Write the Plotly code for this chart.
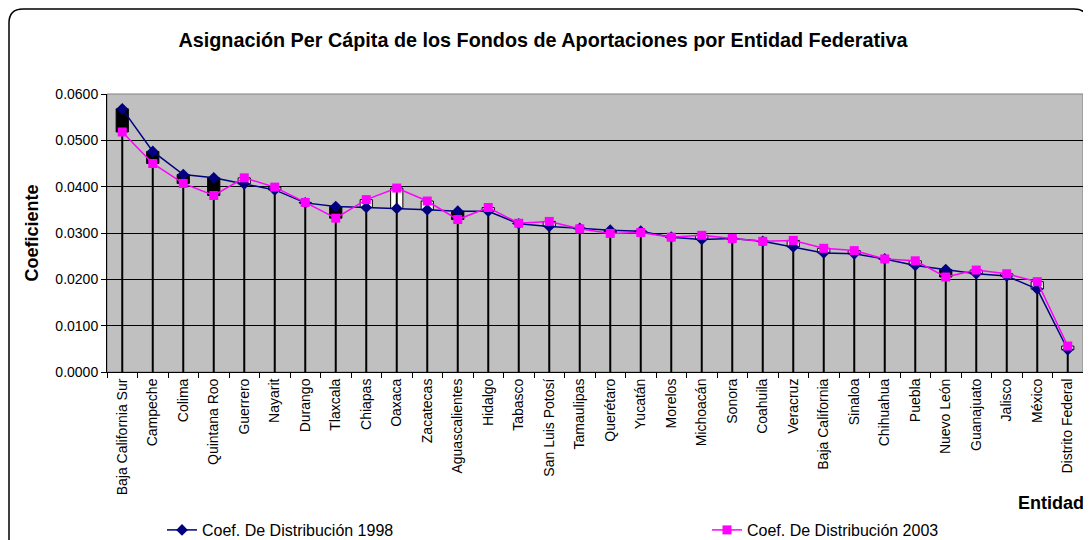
import plotly.graph_objects as go

categories = ["Baja California Sur", "Campeche", "Colima", "Quintana Roo", "Guerrero", "Nayarit",
              "Durango", "Tlaxcala", "Chiapas", "Oaxaca", "Zacatecas", "Aguascalientes", "Hidalgo",
              "Tabasco", "San Luis Potosí", "Tamaulipas", "Querétaro", "Yucatán", "Morelos",
              "Michoacán", "Sonora", "Coahuila", "Veracruz", "Baja California", "Sinaloa",
              "Chihuahua", "Puebla", "Nuevo León", "Guanajuato", "Jalisco", "México", "Distrito Federal"]

coef_1998 = [0.0568, 0.0476, 0.0426, 0.0419, 0.0406, 0.0393, 0.0365, 0.0357, 0.0355, 0.0353,
             0.0350, 0.0347, 0.0347, 0.0320, 0.0314, 0.0310, 0.0306, 0.0304, 0.0291, 0.0286,
             0.0288, 0.0282, 0.0270, 0.0257, 0.0255, 0.0244, 0.0230, 0.0221, 0.0212, 0.0207,
             0.0179, 0.0048]

coef_2003 = [0.0518, 0.0450, 0.0407, 0.0381, 0.0419, 0.0399, 0.0366, 0.0332, 0.0372, 0.0397,
             0.0369, 0.0329, 0.0355, 0.0321, 0.0325, 0.0309, 0.0299, 0.0301, 0.0291, 0.0295,
             0.0288, 0.0282, 0.0284, 0.0267, 0.0262, 0.0244, 0.0240, 0.0205, 0.0220, 0.0212,
             0.0195, 0.0056]

y_ticks = [0.0, 0.01, 0.02, 0.03, 0.04, 0.05, 0.06]

FONT = "Liberation Sans, Arial, sans-serif"
OFF = 8  # page body margin
W, H = 1091 - OFF, 540 - OFF
ML, MR, MT, MB = 99, 8, 86, 168
PW, PH = W - ML - MR, H - MT - MB


def px_x(p):
    return (p - OFF - ML) / PW


def px_y(p):
    return (H - MB - (p - OFF)) / PH


fig = go.Figure()

# drop lines
dx, dy = [], []
for c, a, b in zip(categories, coef_1998, coef_2003):
    dx += [c, c, None]
    dy += [0, max(a, b), None]
fig.add_trace(go.Scatter(x=dx, y=dy, mode="lines", line=dict(color="black", width=2),
                         showlegend=False, hoverinfo="skip"))

# up/down bars
fig.add_trace(go.Bar(
    x=categories,
    y=[abs(b - a) for a, b in zip(coef_1998, coef_2003)],
    base=[min(a, b) for a, b in zip(coef_1998, coef_2003)],
    width=0.4,
    marker=dict(color=["white" if b > a else "black" for a, b in zip(coef_1998, coef_2003)],
                line=dict(color="black", width=1)),
    showlegend=False, hoverinfo="skip"))

fig.add_trace(go.Scatter(x=categories, y=coef_1998, mode="lines+markers",
                         name="Coef. De Distribución 1998",
                         line=dict(color="#000080", width=1.5),
                         marker=dict(symbol="diamond", size=9, color="#000080"),
                         legend="legend"))
fig.add_trace(go.Scatter(x=categories, y=coef_2003, mode="lines+markers",
                         name="Coef. De Distribución 2003",
                         line=dict(color="#FF00FF", width=1.5),
                         marker=dict(symbol="square", size=9, color="#FF00FF"),
                         legend="legend2"))

# rounded chart border
L, R, T, B = px_x(9), px_x(1088), px_y(9), px_y(570)
rx, ry = 14 / PW, 14 / PH
path = (f"M {L+rx},{T} L {R-rx},{T} Q {R},{T} {R},{T-ry} L {R},{B} "
        f"L {L},{B} L {L},{T-ry} Q {L},{T} {L+rx},{T} Z")

fig.update_layout(
    width=W, height=H,
    margin=dict(l=ML, r=MR, t=MT, b=MB, autoexpand=False),
    paper_bgcolor="white",
    plot_bgcolor="#C0C0C0",
    font=dict(family=FONT, color="black", size=14),
    title=dict(text="<b>Asignación Per Cápita de los Fondos de Aportaciones por Entidad Federativa</b>",
               x=(543 - OFF) / W, xanchor="center", y=1 - (40 - OFF) / H, yanchor="middle",
               font=dict(size=19.8, family=FONT, color="black")),
    barmode="overlay",
    xaxis=dict(type="category", tickangle=-90, ticks="outside", tickson="boundaries",
               ticklen=5, tickcolor="black", showline=True, linecolor="black", linewidth=1,
               showgrid=False, automargin=False, tickfont=dict(size=14, family=FONT),
               range=[-0.5, len(categories) - 0.5]),
    yaxis=dict(range=[0, 0.06], tickvals=y_ticks, tickformat=".4f", ticks="outside",
               ticklen=5, tickcolor="black", showline=True, linecolor="black", linewidth=1,
               showgrid=True, gridcolor="black", gridwidth=1, zeroline=False,
               automargin=False, tickfont=dict(size=14, family=FONT),
               title=dict(text="<b>Coeficiente</b>", font=dict(size=18, family=FONT), standoff=12)),
    legend=dict(orientation="h", x=px_x(162), xanchor="left", y=px_y(530), yanchor="middle",
                font=dict(size=16, family=FONT), bgcolor="rgba(0,0,0,0)"),
    legend2=dict(orientation="h", x=px_x(707), xanchor="left", y=px_y(530), yanchor="middle",
                 font=dict(size=16, family=FONT), bgcolor="rgba(0,0,0,0)"),
    shapes=[
        dict(type="rect", xref="x domain", yref="y domain", x0=0, x1=1, y0=0, y1=1,
             line=dict(color="#808080", width=1), layer="below"),
        dict(type="path", xref="paper", yref="paper", path=path,
             line=dict(color="black", width=1.5)),
    ],
    annotations=[
        dict(text="<b>Entidad</b>", xref="paper", yref="paper", x=px_x(1086), y=px_y(503),
             xanchor="right", yanchor="middle", showarrow=False,
             font=dict(size=18, family=FONT, color="black")),
    ],
    showlegend=True,
)

fig.write_html("out.html")
